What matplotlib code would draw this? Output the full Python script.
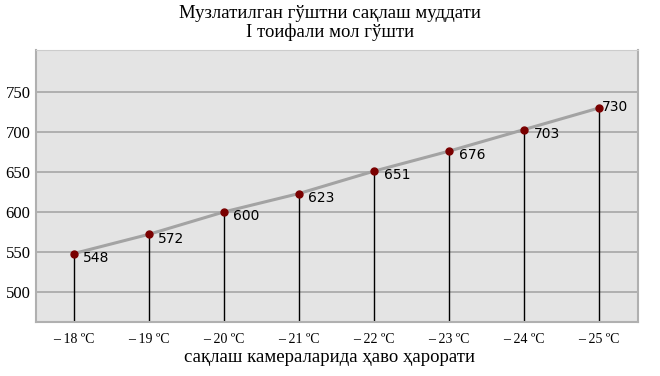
import matplotlib.pyplot as plt

# Data
temps = ['– 18 ºC', '– 19 ºC', '– 20 ºC', '– 21 ºC',
         '– 22 ºC', '– 23 ºC', '– 24 ºC', '– 25 ºC']
days = [548, 572, 600, 623, 651, 676, 703, 730]
yticks = [500, 550, 600, 650, 700, 750]

serif = 'Liberation Serif'

fig = plt.figure(figsize=(6.6, 3.76), dpi=100)
ax = fig.add_axes([36 / 660, 1 - 322 / 376, 602 / 660, 272 / 376])
ax.set_facecolor('#e4e4e4')

x = list(range(len(days)))
ax.set_xlim(-0.5, 7.52)
ax.set_ylim(462.5, 802.5)

# horizontal grid
for yt in yticks:
    ax.axhline(yt, color='#a6a6a6', lw=1.2, zorder=1)

# drop lines from each point to the bottom
ax.vlines(x, 462.5, days, color='black', lw=1, zorder=2)

ax.plot(x, days, color='#a3a3a3', lw=2.2, zorder=3)
ax.plot(x, days, 'o', color='#7a0000', ms=5, zorder=4)

for xi, v in zip(x, days):
    if xi == len(days) - 1:
        off = (2, 1)
    else:
        off = (7, -3)
    ax.annotate(str(v), (xi, v), xytext=off, textcoords='offset points',
                ha='left', va='center', fontsize=10, color='black',
                family='DejaVu Sans', zorder=5)

ax.set_xticks(x)
ax.set_xticklabels(temps, family=serif, fontsize=10)
ax.set_yticks(yticks)
ax.set_yticklabels([str(t) for t in yticks], family=serif, fontsize=12)
ax.tick_params(length=0, pad=8)
ax.tick_params(axis='y', pad=4)

for side in ['left', 'right', 'bottom']:
    ax.spines[side].set_color('#b0b0b0')
    ax.spines[side].set_linewidth(1.5)
ax.spines['top'].set_color('#cccccc')

fig.text(0.5, 1 - 14 / 376, 'Музлатилган гўштни сақлаш муддати',
         ha='center', va='center', family=serif, fontsize=13.5)
fig.text(0.5, 1 - 32 / 376, 'I тоифали мол гўшти',
         ha='center', va='center', family=serif, fontsize=13.5)
fig.text(0.5, 1 - 358 / 376, 'сақлаш камераларида ҳаво ҳарорати',
         ha='center', va='center', family=serif, fontsize=13.5)

fig.savefig('out.png', dpi=100)
